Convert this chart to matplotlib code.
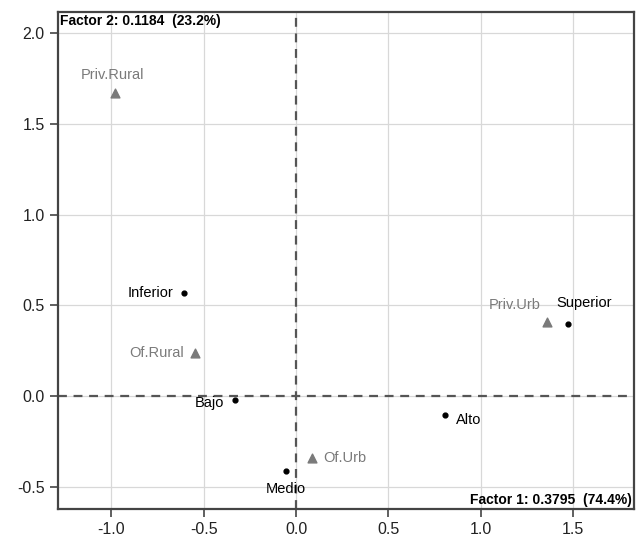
import matplotlib.pyplot as plt

plt.rcParams['font.family'] = ['Liberation Sans', 'DejaVu Sans']
plt.rcParams['axes.unicode_minus'] = False

# Categorias (puntos negros)
cat_labels = ['Inferior', 'Bajo', 'Medio', 'Alto', 'Superior']
cat_x = [-0.605, -0.33, -0.055, 0.805, 1.47]
cat_y = [0.57, -0.02, -0.41, -0.105, 0.40]

# Tipos de escuela (triangulos grises)
esc_labels = ['Priv.Rural', 'Of.Rural', 'Of.Urb', 'Priv.Urb']
esc_x = [-0.98, -0.545, 0.086, 1.36]
esc_y = [1.67, 0.236, -0.34, 0.41]

fig = plt.figure(figsize=(6.36, 5.37), dpi=100)
ax = fig.add_axes([0.091, 0.052, 0.906, 0.926])

ax.set_xlim(-1.29, 1.83)
ax.set_ylim(-0.62, 2.115)
ax.set_xticks([-1.0, -0.5, 0.0, 0.5, 1.0, 1.5])
ax.set_yticks([-0.5, 0.0, 0.5, 1.0, 1.5, 2.0])
ax.grid(True, color='#d8d8d8', linewidth=0.9)
ax.set_axisbelow(True)

ax.axhline(0, color='#555555', linestyle=(0, (4, 3)), linewidth=1.6)
ax.axvline(0, color='#555555', linestyle=(0, (4, 3)), linewidth=1.6)

ax.scatter(cat_x, cat_y, s=12, c='black', zorder=3)
ax.scatter(esc_x, esc_y, s=40, c='#7a7a7a', marker='^', zorder=3)

# posiciones de etiquetas (offset en puntos, alineacion)
cat_off = [((-8, 0), 'right', 'center'), ((-8, -2), 'right', 'center'),
           ((0, -8), 'center', 'top'), ((8, -3), 'left', 'center'),
           ((-8, 10), 'left', 'bottom')]
esc_off = [((-2, 8), 'center', 'bottom'), ((-8, 0), 'right', 'center'),
           ((8, 0), 'left', 'center'), ((-5, 7), 'right', 'bottom')]

for lab, x, y, (off, ha, va) in zip(cat_labels, cat_x, cat_y, cat_off):
    ax.annotate(lab, (x, y), xytext=off, textcoords='offset points',
                ha=ha, va=va, fontsize=10.5, color='black')
for lab, x, y, (off, ha, va) in zip(esc_labels, esc_x, esc_y, esc_off):
    ax.annotate(lab, (x, y), xytext=off, textcoords='offset points',
                ha=ha, va=va, fontsize=10.5, color='#7a7a7a')

ax.text(0.003, 0.995, 'Factor 2: 0.1184  (23.2%)', transform=ax.transAxes,
        ha='left', va='top', fontsize=10, fontweight='bold')
ax.text(0.997, 0.005, 'Factor 1: 0.3795  (74.4%)', transform=ax.transAxes,
        ha='right', va='bottom', fontsize=10, fontweight='bold')

for s in ax.spines.values():
    s.set_color('#444444')
    s.set_linewidth(1.6)
ax.tick_params(direction='out', length=6, width=1.2, color='#444444',
               labelsize=11.5, labelcolor='#222222')

fig.savefig('out.png', dpi=100)
